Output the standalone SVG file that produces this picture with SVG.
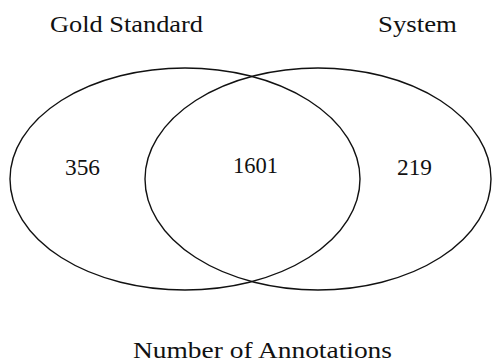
<svg xmlns="http://www.w3.org/2000/svg" width="492" height="363" viewBox="0 0 492 363">
  <style>
    .set { fill: none; stroke: #111; stroke-width: 1.4; }
    .lbl { font-family: "Liberation Serif", "Times New Roman", serif; font-size: 24px; fill: #111; }
  </style>
  <rect width="492" height="363" fill="#fff"/>
  <g id="gold-standard">
    <ellipse class="set" cx="185" cy="179" rx="175" ry="111"/>
    <text class="lbl" x="50" y="32" textLength="153" lengthAdjust="spacingAndGlyphs">Gold Standard</text>
    <text class="lbl" x="65" y="175" textLength="35" lengthAdjust="spacingAndGlyphs">356</text>
  </g>
  <g id="system">
    <ellipse class="set" cx="318" cy="179" rx="173" ry="111"/>
    <text class="lbl" x="378" y="32" textLength="79" lengthAdjust="spacingAndGlyphs">System</text>
    <text class="lbl" x="397" y="175" textLength="35" lengthAdjust="spacingAndGlyphs">219</text>
  </g>
  <g id="intersection">
    <text class="lbl" x="233" y="173" textLength="45" lengthAdjust="spacingAndGlyphs">1601</text>
  </g>
  <g id="caption">
    <text class="lbl" x="133" y="358" textLength="259" lengthAdjust="spacingAndGlyphs">Number of Annotations</text>
  </g>
</svg>
